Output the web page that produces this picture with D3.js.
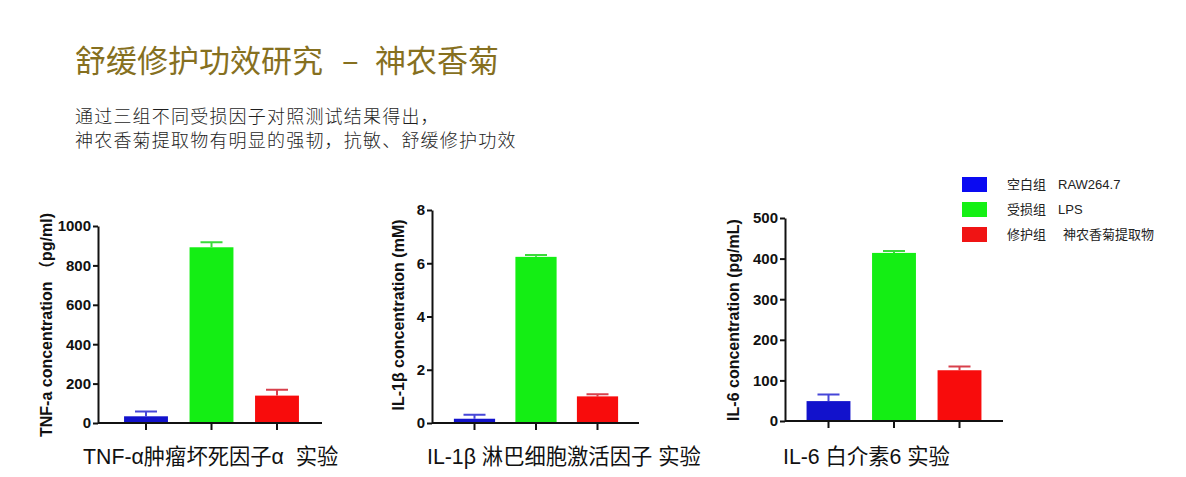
<!DOCTYPE html>
<html>
<head>
<meta charset="utf-8">
<script src="https://cdn.jsdelivr.net/npm/d3@7"></script>
<style>
  body { margin: 0; background: #fff; }
  svg { display: block; }
</style>
</head>
<body>
<div class="chart"></div>
<script>
// groups / legend
const groups = ["空白组", "受损组", "修护组"];
const legendNotes = ["RAW264.7", "LPS", "神农香菊提取物"];
const groupColors = ["#1212cc", "#14ee14", "#f80c0c"];
const errColors = ["#4646d8", "#3ada3a", "#d8404c"];
const legendColors = ["#0a0af2", "#14f014", "#f01414"];

// TNF-α
const tnfMean = [34, 892, 139];
const tnfErr = [24, 25, 30];
const tnfTicks = [0, 200, 400, 600, 800, 1000];

// IL-1β
const il1bMean = [0.16, 6.24, 1.0];
const il1bErr = [0.15, 0.07, 0.08];
const il1bTicks = [0, 2, 4, 6, 8];

// IL-6
const il6Mean = [49, 414, 125];
const il6Err = [16, 5, 9];
const il6Ticks = [0, 100, 200, 300, 400, 500];

const width = 1186, height = 477;

var svg = d3.select(".chart").append("svg")
    .attr("width", width)
    .attr("height", height);

// heading
var head = svg.append("text")
    .attr("y", 72)
    .attr("fill", "#86701f")
    .style("font-family", "'Noto Sans CJK SC'")
    .style("font-size", "31px")
    .style("font-weight", 400);
head.append("tspan").attr("x", 75).text("舒缓修护功效研究");
head.append("tspan").attr("x", 342).text("–");
head.append("tspan").attr("x", 375).text("神农香菊");

var sub = svg.append("text")
    .attr("fill", "#1e1e1e")
    .style("font-family", "'Noto Sans CJK SC'")
    .style("font-size", "18px")
    .style("font-weight", 300)
    .style("letter-spacing", "1.2px");
sub.append("tspan").attr("x", 75).attr("y", 123).text("通过三组不同受损因子对照测试结果得出，");
sub.append("tspan").attr("x", 75).attr("y", 147).text("神农香菊提取物有明显的强韧，抗敏、舒缓修护功效");

var charts = [
    { mean: tnfMean, err: tnfErr, ticks: tnfTicks, max: 1000,
      left: 98, top: 226, bottom: 423, right: 322, c0: 146, step: 65.5,
      ytitle: "TNF-a concentration （pg/ml)", tx: 52, ty: 325,
      caption: "TNF-α肿瘤坏死因子α  实验", cx: 83 },
    { mean: il1bMean, err: il1bErr, ticks: il1bTicks, max: 8,
      left: 432, top: 210, bottom: 423, right: 639, c0: 474.5, step: 61.5,
      ytitle: "IL-1β concentration (mM)", tx: 404, ty: 315,
      caption: "IL-1β 淋巴细胞激活因子 实验", cx: 427 },
    { mean: il6Mean, err: il6Err, ticks: il6Ticks, max: 500,
      left: 785, top: 218, bottom: 421, right: 1003, c0: 828.5, step: 65.5,
      ytitle: "IL-6 concentration (pg/mL)", tx: 739, ty: 320,
      caption: "IL-6 白介素6 实验", cx: 783 }
];

charts.forEach(c => {
    var g = svg.append("g");

    var x = d3.scaleBand()
        .domain(groups)
        .range([c.c0 - c.step / 2, c.c0 + c.step * 2.5])
        .paddingInner(0.33)
        .paddingOuter(0.165);

    var y = d3.scaleLinear()
        .domain([0, c.max])
        .range([c.bottom, c.top]);

    var rows = groups.map((d, i) => ({ g: d, v: c.mean[i], e: c.err[i], i: i }));

    // error bars (upper only)
    g.selectAll(".err")
        .data(rows)
        .join("path")
        .attr("class", "err")
        .attr("d", d => {
            var cx = x(d.g) + x.bandwidth() / 2;
            return `M${cx},${y(d.v)}V${y(d.v + d.e)}M${cx - 11},${y(d.v + d.e)}H${cx + 11}`;
        })
        .attr("fill", "none")
        .attr("stroke", d => errColors[d.i])
        .attr("stroke-width", 2);

    g.selectAll(".bar")
        .data(rows)
        .join("rect")
        .attr("class", "bar")
        .attr("x", d => x(d.g))
        .attr("y", d => y(d.v))
        .attr("width", x.bandwidth())
        .attr("height", d => y(0) - y(d.v))
        .attr("fill", d => groupColors[d.i]);

    var yAxis = g.append("g")
        .attr("transform", `translate(${c.left},0)`)
        .call(d3.axisLeft(y).tickValues(c.ticks).tickFormat(d3.format("d"))
            .tickSize(5).tickPadding(2).tickSizeOuter(0));

    var xAxis = g.append("g")
        .attr("transform", `translate(0,${c.bottom})`)
        .call(d3.axisBottom(x).tickSize(7).tickSizeOuter(0).tickFormat(""));

    xAxis.select(".domain").attr("d", `M${c.left},0H${c.right}`);

    [yAxis, xAxis].forEach(a => {
        a.selectAll("path, line").attr("stroke", "#111").attr("stroke-width", 2);
    });
    yAxis.selectAll("text")
        .attr("fill", "#111")
        .style("font-family", "'Liberation Sans', Arial")
        .style("font-size", "15px")
        .style("font-weight", "bold");

    g.append("text")
        .attr("transform", `translate(${c.tx},${c.ty}) rotate(-90)`)
        .attr("text-anchor", "middle")
        .attr("fill", "#111")
        .style("font-family", "'Liberation Sans', 'Noto Sans CJK SC'")
        .style("font-size", "16px")
        .style("font-weight", "bold")
        .text(c.ytitle);

    g.append("text")
        .attr("x", c.cx)
        .attr("y", 464)
        .attr("fill", "#111")
        .style("font-family", "'Liberation Sans', 'Noto Sans CJK SC'")
        .style("font-size", "21.3px")
        .style("white-space", "pre")
        .text(c.caption);
});

// legend
var legend = svg.append("g");

legend.selectAll("rect")
    .data(groups)
    .join("rect")
    .attr("x", 962)
    .attr("y", (d, i) => 177 + i * 25)
    .attr("width", 25)
    .attr("height", 15)
    .attr("fill", (d, i) => legendColors[i]);

legend.selectAll(".lg")
    .data(groups)
    .join("text")
    .attr("class", "lg")
    .attr("x", 1007)
    .attr("y", (d, i) => 189 + i * 25)
    .style("font-family", "'Noto Sans CJK SC'")
    .style("font-size", "13px")
    .attr("fill", "#222")
    .text(d => d);

legend.selectAll(".ln")
    .data(legendNotes)
    .join("text")
    .attr("class", "ln")
    .attr("x", (d, i) => i == 2 ? 1063 : 1058)
    .attr("y", (d, i) => 189 + i * 25)
    .style("font-family", "'Liberation Sans', 'Noto Sans CJK SC'")
    .style("font-size", "13px")
    .attr("fill", "#222")
    .text(d => d);
</script>
</body>
</html>
